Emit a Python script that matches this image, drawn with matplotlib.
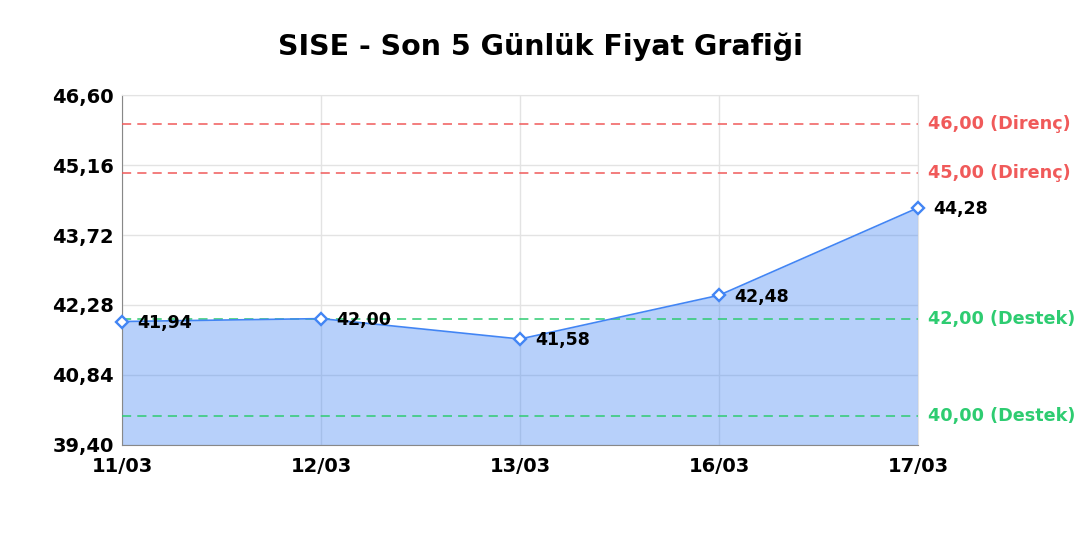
import matplotlib.pyplot as plt
import numpy as np

dates = ["11/03", "12/03", "13/03", "16/03", "17/03"]
prices = [41.94, 42.00, 41.58, 42.48, 44.28]
resistance = [46.00, 45.00]
support = [42.00, 40.00]
y_ticks = [39.40, 40.84, 42.28, 43.72, 45.16, 46.60]

line_color = "#4285f4"
red = "#f05a5a"
green = "#2ecc71"


def fmt(v):
    return f"{v:.2f}".replace(".", ",")


fig = plt.figure(figsize=(10.8, 5.4), dpi=100)
ax = fig.add_axes([0.113, 0.176, 0.737, 0.648])

x = np.arange(len(dates))
ax.fill_between(x, prices, y_ticks[0], color=line_color, alpha=0.38, lw=0, zorder=2)
ax.plot(x, prices, color=line_color, lw=1.2, zorder=4)
ax.plot(x, prices, ls="none", marker="D", ms=6.5, mfc="white", mec=line_color, mew=1.7,
        zorder=5, clip_on=False)

for xi, p in zip(x, prices):
    ax.annotate(fmt(p), (xi, p), xytext=(11, -1), textcoords="offset points",
                fontsize=12.5, fontweight="bold", va="center", ha="left", zorder=6)

for lvl in resistance:
    ax.axhline(lvl, color=red, ls=(0, (6, 4)), lw=1.1, zorder=3)
    ax.text(1.013, lvl, fmt(lvl) + " (Direnç)", transform=ax.get_yaxis_transform(),
            color=red, fontsize=12.7, fontweight="bold", va="center", ha="left")
for lvl in support:
    ax.axhline(lvl, color=green, ls=(0, (6, 4)), lw=1.1, zorder=3)
    ax.text(1.013, lvl, fmt(lvl) + " (Destek)", transform=ax.get_yaxis_transform(),
            color=green, fontsize=12.7, fontweight="bold", va="center", ha="left")

ax.set_xlim(0, len(dates) - 1)
ax.set_ylim(y_ticks[0], y_ticks[-1])
ax.set_xticks(x)
ax.set_xticklabels(dates)
ax.set_yticks(y_ticks)
ax.set_yticklabels([fmt(v) for v in y_ticks])
for lab in ax.get_xticklabels() + ax.get_yticklabels():
    lab.set_fontweight("bold")
    lab.set_fontsize(14)
ax.tick_params(length=0)
ax.tick_params(axis="y", pad=6)
ax.tick_params(axis="x", pad=9)

ax.grid(True, color="#e3e3e3", lw=1, zorder=1)
ax.set_axisbelow(True)
for side in ["top", "right"]:
    ax.spines[side].set_color("#e3e3e3")
for side in ["left", "bottom"]:
    ax.spines[side].set_color("#888888")

fig.suptitle("SISE - Son 5 Günlük Fiyat Grafiği", fontsize=20.5, fontweight="bold", y=0.94)

fig.savefig("out.png", dpi=100)
